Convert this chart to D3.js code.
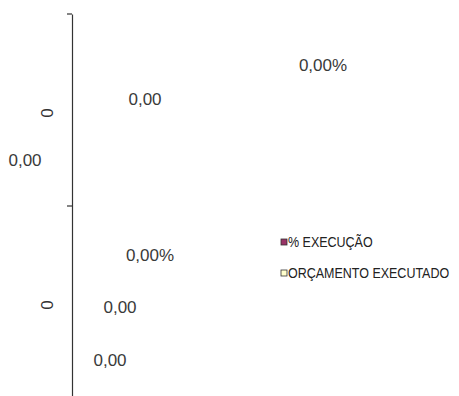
<!DOCTYPE html>
<html>
<head>
<meta charset="utf-8">
<script src="https://cdn.jsdelivr.net/npm/d3@7"></script>
<style>
  html, body { margin: 0; padding: 0; background: #fff; }
  svg { display: block; }
  text { font-family: "Liberation Sans", Arial, sans-serif; }
</style>
</head>
<body>
<svg id="chart" width="459" height="396"></svg>
<script>
// Categories (both shown as "0") and series values
const categories = ["0", "0"];
const pctExecucao = [0, 0];
const orcamentoExecutado = [0, 0];
const orcamentoPrevisto = [0, 0];
const seriesNames = ["% EXECUÇÃO", "ORÇAMENTO EXECUTADO"];
const seriesColors = ["#993366", "#FFFFCC"];

const fmtNum = v => d3.format(".2f")(v).replace(".", ",");
const fmtPct = v => d3.format(".2f")(v * 100).replace(".", ",") + "%";

const svg = d3.select("#chart");

// Horizontal bar layout: categories on the vertical axis
const y = d3.scaleBand()
  .domain(d3.range(categories.length))
  .range([14, 398])
  .paddingInner(0).paddingOuter(0);
const x = d3.scaleLinear().domain([0, 1]).range([72, 440]);

// Category axis
const axis = d3.axisLeft(y)
  .tickFormat(i => categories[i])
  .tickSize(0);
const gAxis = svg.append("g").attr("transform", `translate(${x(0)},0)`).call(axis);
gAxis.select(".domain").attr("stroke", "#333").attr("stroke-width", 1.2);
gAxis.selectAll(".tick text")
  .attr("font-size", 17)
  .attr("fill", "#333")
  .attr("text-anchor", "middle")
  .attr("dy", null)
  .attr("transform", "translate(-25,0) rotate(-90)")
  .attr("dominant-baseline", "central");

// Band boundary tick marks
const boundaries = y.domain().map(i => y(i));
svg.append("g").selectAll("line").data(boundaries).join("line")
  .attr("x1", x(0) - 5).attr("x2", x(0))
  .attr("y1", d => d).attr("y2", d => d)
  .attr("stroke", "#333").attr("stroke-width", 1.2);

// Zero-length bars
const barH = 20;
const series = [
  { values: pctExecucao, color: seriesColors[0], off: -60 },
  { values: orcamentoExecutado, color: seriesColors[1], off: -20 }
];
series.forEach(s => {
  svg.append("g").selectAll("rect").data(s.values).join("rect")
    .attr("x", x(0))
    .attr("y", (d, i) => y(i) + y.bandwidth() / 2 + s.off)
    .attr("width", d => x(d) - x(0))
    .attr("height", barH)
    .attr("fill", s.color);
});

// Data labels (positions relative to each band)
const labelLayout = [
  { values: pctExecucao, fmt: fmtPct, pos: [[251, -45], [78, -47]] },
  { values: orcamentoExecutado, fmt: fmtNum, pos: [[73, -11], [48, 5]] },
  { values: orcamentoPrevisto, fmt: fmtNum, pos: [[-47, 50], [38, 58]] }
];
labelLayout.forEach(L => {
  svg.append("g").selectAll("text").data(L.values).join("text")
    .attr("x", (d, i) => x(d) + L.pos[i][0])
    .attr("y", (d, i) => y(i) + y.bandwidth() / 2 + L.pos[i][1])
    .attr("text-anchor", "middle")
    .attr("dominant-baseline", "central")
    .attr("font-size", 17)
    .attr("fill", "#3a3a3a")
    .text(d => L.fmt(d));
});

// Legend
const legend = svg.append("g").attr("transform", "translate(281,242)");
const items = legend.selectAll("g").data(seriesNames).join("g")
  .attr("transform", (d, i) => `translate(0,${i * 31})`);
items.append("rect")
  .attr("x", 0).attr("y", -3).attr("width", 6).attr("height", 6)
  .attr("fill", (d, i) => seriesColors[i])
  .attr("stroke", "#333").attr("stroke-width", 0.8);
items.append("text")
  .attr("x", 7).attr("y", 0)
  .attr("dominant-baseline", "central")
  .attr("font-size", 12.5)
  .attr("fill", "#222")
  .attr("transform", "scale(1,1.18)")
  .attr("transform-origin", "0 0")
  .text(d => d);
</script>
</body>
</html>
